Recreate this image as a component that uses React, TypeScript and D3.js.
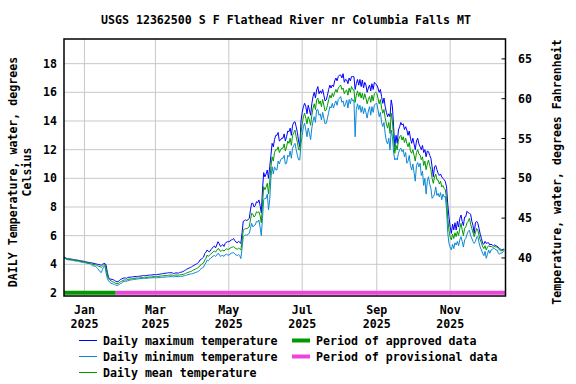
import * as d3 from 'd3'

const TITLE = 'USGS 12362500 S F Flathead River nr Columbia Falls MT'
const START = Date.UTC(2024, 11, 15)
const END = Date.UTC(2025, 11, 17)
const DAY = 86400000

// daily values, degC, starting 2024-12-15
const MAX_T = [
  4.50, 4.47, 4.42, 4.40, 4.38, 4.37, 4.37, 4.35, 4.33, 4.31, 4.30, 4.30, 4.28, 4.26, 4.24, 4.23, 4.22,
  4.20, 4.18, 4.16, 4.14, 4.13, 4.12, 4.10, 4.08, 4.06, 4.04, 4.02, 4.00, 3.98, 3.96, 3.94, 4.00, 4.05, 4.06, 3.95, 3.45, 3.10, 3.00, 2.96, 2.95, 2.92, 2.88, 2.82, 2.78, 2.80, 2.86, 2.95,
  2.98, 3.02, 3.05, 3.05, 3.02, 3.08, 3.10, 3.10, 3.12, 3.12, 3.14, 3.15, 3.15, 3.16, 3.16, 3.18, 3.18, 3.20, 3.22, 3.22, 3.20, 3.22, 3.24, 3.25, 3.25, 3.26, 3.27, 3.28,
  3.28, 3.28, 3.30, 3.30, 3.32, 3.33, 3.35, 3.36, 3.38, 3.38, 3.40, 3.42, 3.40, 3.42, 3.40, 3.36, 3.38, 3.40, 3.40, 3.38, 3.42, 3.45, 3.46, 3.50, 3.55, 3.60, 3.66, 3.70, 3.74, 3.78, 3.82,
  3.88, 3.92, 3.98, 4.02, 4.07, 4.15, 4.30, 4.35, 4.42, 4.50, 4.75, 4.85, 5.00, 4.90, 4.88, 5.00, 5.12, 5.20, 5.28, 5.15, 5.35, 5.58, 5.45, 5.25, 5.30, 5.38, 5.25, 5.45, 5.55, 5.58,
  5.58, 5.62, 5.70, 5.72, 5.80, 5.65, 5.55, 5.50, 5.60, 5.55, 5.45, 6.20, 7.00, 7.05, 7.10, 7.05, 7.12, 7.20, 7.80, 8.26, 8.26, 8.00, 8.10, 8.37, 8.30, 8.49, 8.10, 7.60, 9.20, 10.40, 10.10,
  10.30, 10.58, 10.00, 10.80, 11.60, 12.44, 12.20, 12.70, 13.00, 13.00, 13.20, 12.60, 12.67, 12.80, 12.80, 13.10, 12.60, 12.90, 13.30, 13.25, 13.50, 13.00, 13.70, 13.90, 13.95, 13.60, 13.20, 12.60, 12.20, 14.00,
  14.60, 15.00, 15.23, 15.00, 14.50, 15.10, 14.77, 14.40, 15.20, 15.70, 16.00, 15.60, 16.16, 16.40, 15.90, 16.10, 15.93, 16.20, 15.80, 15.40, 15.47, 15.80, 16.20, 16.50, 16.30, 16.51, 16.40, 16.80, 17.00, 16.80, 17.10,
  17.20, 17.21, 17.00, 17.30, 16.70, 16.90, 16.86, 16.60, 17.00, 16.80, 17.10, 17.10, 17.09, 16.20, 16.60, 16.90, 16.50, 16.90, 16.40, 16.86, 16.30, 16.70, 16.50, 16.00, 16.30, 16.51, 16.10, 16.60, 16.20, 16.70, 16.60,
  16.51, 16.30, 16.00, 16.20, 15.70, 15.23, 15.60, 15.00, 14.60, 14.30, 14.50, 14.30, 15.47, 15.00, 13.60, 12.20, 13.00, 12.44, 13.37, 13.60, 13.90, 13.72, 13.80, 13.40, 13.60, 13.37, 13.00, 13.30, 12.80, 12.44,
  12.80, 12.40, 12.00, 12.60, 12.80, 12.40, 12.20, 12.00, 12.30, 11.80, 12.00, 11.50, 11.90, 11.86, 11.60, 11.40, 10.80, 10.11, 10.80, 10.90, 10.60, 10.35, 10.20, 10.30, 10.10, 10.00, 9.90, 9.77, 9.40, 8.20, 7.32,
  6.60, 6.16, 6.80, 6.40, 6.90, 6.39, 7.00, 6.60, 7.20, 7.44, 7.00, 6.70, 7.30, 7.32, 7.70, 7.60, 7.56, 7.50, 7.00, 6.70, 6.16, 6.90, 7.00, 6.86, 6.50, 6.10, 5.80, 5.46, 5.40, 5.60,
  5.46, 5.50, 5.50, 5.35, 5.40, 5.35, 5.30, 5.35, 5.30, 5.25, 5.20, 5.10, 5.05, 5.00, 5.05, 5.05,
]
const MIN_T = [
  4.41, 4.39, 4.34, 4.32, 4.31, 4.30, 4.29, 4.28, 4.26, 4.24, 4.23, 4.22, 4.21, 4.18, 4.16, 4.15, 4.14,
  4.12, 4.10, 4.08, 4.06, 4.05, 4.02, 3.95, 3.88, 3.90, 3.86, 3.80, 3.70, 3.60, 3.48, 3.42, 3.65, 3.85, 3.88, 3.40, 3.02, 2.85, 2.75, 2.68, 2.66, 2.62, 2.60, 2.55, 2.52, 2.55, 2.60, 2.66,
  2.70, 2.78, 2.80, 2.82, 2.82, 2.85, 2.88, 2.90, 2.92, 2.92, 2.95, 2.95, 2.96, 2.98, 2.98, 3.00, 3.00, 3.01, 3.02, 3.02, 3.02, 3.03, 3.04, 3.05, 3.05, 3.06, 3.06, 3.07,
  3.06, 3.06, 3.07, 3.07, 3.08, 3.08, 3.10, 3.10, 3.11, 3.12, 3.12, 3.13, 3.14, 3.14, 3.15, 3.12, 3.14, 3.15, 3.15, 3.14, 3.15, 3.16, 3.16, 3.18, 3.20, 3.22, 3.25, 3.28, 3.30, 3.32, 3.34,
  3.35, 3.38, 3.42, 3.45, 3.48, 3.52, 3.62, 3.70, 3.75, 3.80, 4.00, 4.10, 4.30, 4.25, 4.35, 4.45, 4.50, 4.58, 4.62, 4.55, 4.65, 4.77, 4.70, 4.55, 4.60, 4.62, 4.55, 4.68, 4.72, 4.65,
  4.65, 4.70, 4.78, 4.80, 4.82, 4.72, 4.66, 4.60, 4.68, 4.62, 4.40, 5.10, 5.93, 6.00, 6.05, 6.02, 6.10, 6.16, 6.50, 6.86, 6.62, 6.70, 6.75, 7.00, 6.95, 7.09, 6.60, 6.00, 7.20, 8.50, 8.60,
  8.60, 8.90, 7.80, 8.50, 10.00, 10.81, 10.30, 10.80, 10.60, 10.58, 11.20, 11.00, 11.28, 11.40, 11.40, 11.60, 11.00, 11.05, 11.60, 11.50, 11.90, 11.40, 12.10, 12.30, 12.44, 12.00, 11.60, 11.30, 11.28, 12.40,
  13.00, 13.60, 13.84, 13.40, 12.90, 13.50, 13.14, 12.70, 13.50, 14.00, 14.30, 13.90, 14.77, 14.80, 14.40, 14.50, 14.07, 14.60, 14.20, 13.80, 13.84, 14.20, 14.60, 15.00, 14.90, 15.23, 14.90, 15.20, 15.40, 15.10, 15.50,
  15.60, 15.70, 15.30, 15.40, 15.00, 15.20, 15.47, 14.90, 15.50, 15.20, 15.60, 15.40, 15.47, 12.90, 14.80, 15.20, 14.80, 15.10, 14.60, 15.00, 14.50, 14.90, 14.60, 14.20, 14.70, 15.00, 14.40, 15.00, 14.60, 15.10, 15.20,
  15.23, 14.80, 14.30, 14.60, 13.90, 13.61, 13.90, 13.10, 12.60, 12.40, 12.80, 11.98, 13.37, 12.90, 11.80, 11.28, 11.40, 11.28, 11.75, 12.00, 12.10, 11.86, 12.00, 11.50, 11.80, 11.05, 11.20, 11.60, 10.90, 10.58,
  11.00, 10.40, 9.80, 10.90, 11.10, 10.80, 11.05, 10.20, 10.50, 9.50, 10.00, 8.90, 9.80, 10.11, 9.60, 9.30, 8.60, 8.72, 8.90, 9.40, 8.80, 8.95, 8.70, 9.00, 8.50, 8.90, 8.70, 8.72, 7.80, 6.20, 5.46,
  5.20, 5.00, 5.40, 5.10, 5.50, 5.35, 5.60, 5.30, 5.70, 5.93, 5.60, 5.20, 5.70, 5.81, 6.10, 6.30, 6.39, 6.00, 5.80, 5.60, 5.46, 5.60, 5.90, 5.93, 5.50, 5.20, 5.00, 4.77, 4.60, 4.90,
  4.42, 4.70, 5.00, 4.77, 5.00, 5.05, 5.10, 5.10, 5.00, 5.00, 4.80, 4.70, 4.80, 4.77, 4.90, 4.95,
]
const MEAN_T = [
  4.45, 4.43, 4.38, 4.36, 4.35, 4.34, 4.33, 4.32, 4.30, 4.28, 4.27, 4.26, 4.25, 4.22, 4.20, 4.19, 4.18,
  4.16, 4.14, 4.12, 4.10, 4.09, 4.07, 4.03, 4.00, 3.98, 3.96, 3.93, 3.90, 3.86, 3.84, 3.80, 3.88, 3.96, 3.98, 3.70, 3.25, 3.00, 2.90, 2.85, 2.80, 2.76, 2.72, 2.68, 2.65, 2.66, 2.72, 2.78,
  2.82, 2.88, 2.90, 2.92, 2.90, 2.95, 2.96, 2.98, 3.00, 3.00, 3.02, 3.02, 3.04, 3.05, 3.05, 3.06, 3.06, 3.08, 3.08, 3.10, 3.08, 3.10, 3.10, 3.12, 3.12, 3.12, 3.14, 3.14,
  3.15, 3.15, 3.16, 3.16, 3.18, 3.18, 3.20, 3.20, 3.21, 3.22, 3.22, 3.24, 3.24, 3.25, 3.25, 3.22, 3.24, 3.26, 3.25, 3.24, 3.26, 3.28, 3.28, 3.30, 3.32, 3.36, 3.40, 3.44, 3.46, 3.50, 3.52,
  3.58, 3.62, 3.66, 3.70, 3.74, 3.80, 3.92, 3.98, 4.05, 4.10, 4.30, 4.42, 4.65, 4.55, 4.65, 4.72, 4.80, 4.88, 4.92, 4.85, 4.98, 5.10, 5.05, 4.90, 4.95, 5.00, 4.92, 5.02, 5.08, 5.05,
  5.05, 5.12, 5.18, 5.20, 5.23, 5.15, 5.10, 5.05, 5.12, 5.08, 5.00, 5.60, 6.40, 6.45, 6.50, 6.48, 6.55, 6.62, 7.10, 7.56, 7.50, 7.30, 7.40, 7.67, 7.60, 7.67, 7.40, 6.90, 8.20, 9.42, 9.20,
  9.40, 9.65, 8.90, 9.80, 10.80, 11.50, 11.20, 11.80, 12.00, 11.98, 12.20, 11.80, 11.98, 12.10, 12.10, 12.40, 11.90, 12.20, 12.60, 12.44, 12.80, 12.30, 13.00, 13.20, 13.37, 12.90, 12.50, 12.00, 11.98, 13.20,
  13.80, 14.30, 14.54, 14.20, 13.80, 14.30, 14.07, 13.70, 14.40, 14.90, 15.20, 14.80, 15.47, 15.60, 15.20, 15.40, 15.00, 15.50, 15.10, 14.70, 14.77, 15.10, 15.50, 15.80, 15.60, 15.93, 15.70, 16.00, 16.20, 16.00, 16.30,
  16.40, 16.51, 16.20, 16.30, 15.90, 16.10, 16.16, 15.80, 16.30, 16.00, 16.40, 16.20, 16.16, 15.30, 15.80, 16.10, 15.70, 16.00, 15.60, 15.93, 15.50, 15.90, 15.60, 15.20, 15.50, 15.70, 15.30, 15.80, 15.40, 15.90, 16.00,
  15.93, 15.60, 15.20, 15.50, 14.90, 14.54, 14.80, 14.20, 13.80, 13.50, 13.90, 13.14, 14.54, 14.00, 12.80, 11.75, 12.30, 11.98, 12.67, 12.90, 13.00, 12.67, 12.90, 12.50, 12.80, 12.44, 12.20, 12.50, 11.90, 11.75,
  12.00, 11.60, 11.20, 11.80, 12.00, 11.70, 11.63, 11.30, 11.50, 10.90, 11.20, 10.60, 11.00, 11.28, 10.90, 10.60, 10.00, 9.65, 10.10, 10.30, 9.90, 9.88, 9.60, 9.80, 9.40, 9.50, 9.30, 9.19, 8.60, 7.20, 6.39,
  5.90, 5.70, 6.10, 5.80, 6.20, 5.93, 6.30, 6.00, 6.50, 6.86, 6.40, 6.00, 6.50, 6.62, 6.90, 7.00, 7.21, 6.80, 6.50, 6.20, 5.93, 6.20, 6.50, 6.39, 6.00, 5.70, 5.50, 5.23, 5.10, 5.30,
  5.00, 5.20, 5.30, 5.23, 5.25, 5.20, 5.20, 5.25, 5.20, 5.23, 5.10, 5.00, 4.95, 4.95, 5.00, 5.00,
]

const C_TICKS = [2, 4, 6, 8, 10, 12, 14, 16, 18]
const F_TICKS = [40, 45, 50, 55, 60, 65]
const MONTH_TICKS = [
  { date: Date.UTC(2025, 0, 1), label: 'Jan' },
  { date: Date.UTC(2025, 2, 1), label: 'Mar' },
  { date: Date.UTC(2025, 4, 1), label: 'May' },
  { date: Date.UTC(2025, 6, 1), label: 'Jul' },
  { date: Date.UTC(2025, 8, 1), label: 'Sep' },
  { date: Date.UTC(2025, 10, 1), label: 'Nov' },
]
const PERIODS = [
  { from: START, to: Date.UTC(2025, 0, 27), color: '#009900', label: 'Period of approved data' },
  { from: Date.UTC(2025, 0, 27), to: END, color: '#ee44dd', label: 'Period of provisional data' },
]
const SERIES = [
  { label: 'Daily maximum temperature', values: MAX_T, color: '#0000ff' },
  { label: 'Daily minimum temperature', values: MIN_T, color: '#0a88d6' },
  { label: 'Daily mean temperature', values: MEAN_T, color: '#009900' },
]

const FONT = "'DejaVu Sans Mono', monospace"

export default function App() {
  const W = 576, H = 384
  const L = 64, R = 505.5, T = 39, B = 296
  const x = d3.scaleUtc().domain([START, END]).range([L, R])
  const y = d3.scaleLinear().domain([1.79, 19.72]).range([B, T])
  const yF = d3.scaleLinear().domain([1.79 * 1.8 + 32, 19.72 * 1.8 + 32]).range([B, T])
  const line = d3.line<number>().x((_, i) => x(START + i * DAY)).y((d) => y(d))

  const txt = { fontFamily: FONT, fontWeight: 700, fontSize: 11.6, fill: '#000' } as const

  return (
    <svg width={W} height={H} style={{ position: 'absolute', left: 0, top: 0, background: '#fff' }}>
      <rect width={W} height={H} fill="#fff" />
      <text x={286} y={24} textAnchor="middle" {...txt}>{TITLE}</text>

      {/* grid */}
      {C_TICKS.filter((t) => t > 2).map((t) => (
        <line key={'gy' + t} x1={L} x2={R} y1={y(t)} y2={y(t)} stroke="#c8c8c8" strokeWidth={1} />
      ))}
      {MONTH_TICKS.map((m) => (
        <line key={'gx' + m.label} x1={x(m.date)} x2={x(m.date)} y1={T} y2={B} stroke="#c8c8c8" strokeWidth={1} />
      ))}

      {/* data period bars */}
      {PERIODS.map((p) => (
        <line key={p.label} x1={x(p.from)} x2={x(p.to)} y1={y(2.02)} y2={y(2.02)} stroke={p.color} strokeWidth={4} />
      ))}

      {SERIES.map((s) => (
        <path key={s.label} d={line(s.values) ?? ''} fill="none" stroke={s.color} strokeWidth={1} />
      ))}

      <rect x={L} y={T} width={R - L} height={B - T} fill="none" stroke="#000" strokeWidth={1.5} />

      {/* left axis */}
      {C_TICKS.map((t) => (
        <text key={'cl' + t} x={57} y={y(t) + 4} textAnchor="end" {...txt}>{t}</text>
      ))}
      {/* right axis */}
      {F_TICKS.map((t) => (
        <g key={'fl' + t}>
          <line x1={R - 4} x2={R} y1={yF(t)} y2={yF(t)} stroke="#000" strokeWidth={1} />
          <text x={518} y={yF(t) + 4} {...txt}>{t}</text>
        </g>
      ))}
      {/* x axis */}
      {MONTH_TICKS.map((m) => (
        <g key={'xl' + m.label}>
          <text x={x(m.date)} y={314} textAnchor="middle" {...txt}>{m.label}</text>
          <text x={x(m.date)} y={328} textAnchor="middle" {...txt}>2025</text>
        </g>
      ))}

      <text transform={`translate(17,172) rotate(-90)`} textAnchor="middle" {...txt}>DAILY Temperature, water, degrees</text>
      <text transform={`translate(31,172) rotate(-90)`} textAnchor="middle" {...txt}>Celsius</text>
      <text transform={`translate(561,172) rotate(-90)`} textAnchor="middle" {...txt}>Temperature, water, degrees Fahrenheit</text>

      {/* legend */}
      {SERIES.map((s, i) => (
        <g key={'lg' + s.label}>
          <line x1={79} x2={97} y1={340.5 + i * 16} y2={340.5 + i * 16} stroke={s.color} strokeWidth={1} />
          <text x={103} y={344.5 + i * 16} {...txt}>{s.label}</text>
        </g>
      ))}
      {PERIODS.map((p, i) => (
        <g key={'lp' + p.label}>
          <line x1={292} x2={310} y1={340.5 + i * 16} y2={340.5 + i * 16} stroke={p.color} strokeWidth={4} />
          <text x={316} y={344.5 + i * 16} {...txt}>{p.label}</text>
        </g>
      ))}
    </svg>
  )
}
